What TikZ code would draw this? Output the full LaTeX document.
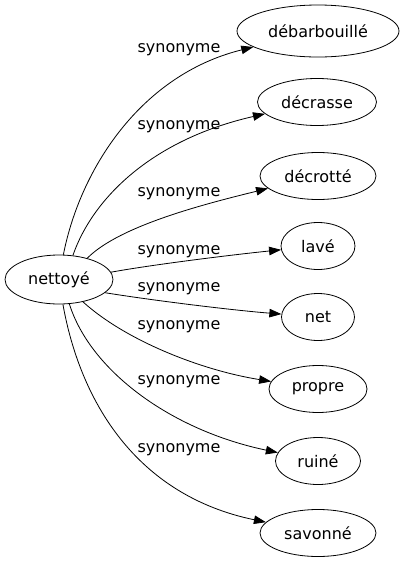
\documentclass[tikz,border=0pt]{standalone}
\usepackage{fontspec}
\setmainfont{DejaVu Sans}
\usetikzlibrary{shapes.geometric,arrows.meta}

\tikzset{
  mot/.style={ellipse,draw,line width=0.8pt,inner sep=0pt,minimum height=47pt},
  rel/.style={->,>={Triangle[length=12pt,width=8.5pt]},line width=0.8pt},
  etiq/.style={inner sep=0pt}
}

\begin{document}
\begin{tikzpicture}[x=1pt,y=-1pt,font=\fontsize{16}{19}\selectfont]
\useasboundingbox (0,0) rectangle (404,563);
\node[mot,minimum width=108pt,minimum height=49pt] (nettoye) at (59,279.5) {nettoyé};
\node[mot,minimum width=162pt,minimum height=52pt] (debarbouille) at (318,31) {débarbouillé};
\node[mot,minimum width=119pt] (decrasse) at (317,102) {décrasse};
\node[mot,minimum width=116pt] (decrotte) at (318,176) {décrotté};
\node[mot,minimum width=74pt] (lave) at (318,246) {lavé};
\node[mot,minimum width=73pt] (net) at (318,317) {net};
\node[mot,minimum width=98pt] (propre) at (318,389) {propre};
\node[mot,minimum width=85pt] (ruine) at (318,461) {ruiné};
\node[mot,minimum width=116pt] (savonne) at (318,533) {savonné};
\foreach \y [count=\i] in {50,127,194,252,289,327,382,450}
\node[etiq] (syn\i) at (179,\y) {synonyme};
\draw[rel] (nettoye.80) .. controls (80,170) and (140,75) .. (debarbouille);
\draw[rel] (nettoye.60) .. controls (92,200) and (150,140) .. (decrasse);
\draw[rel] (nettoye.37) .. controls (120,225) and (209,203) .. (decrotte);
\draw[rel] (nettoye.8) .. controls (150,265) and (230,255) .. (lave);
\draw[rel] (nettoye.-16) .. controls (150,300) and (230,310) .. (net);
\draw[rel] (nettoye.-43) .. controls (125,340) and (200,370) .. (propre);
\draw[rel] (nettoye.-67) .. controls (90,370) and (170,430) .. (ruine);
\draw[rel] (nettoye.-81) .. controls (80,400) and (135,495) .. (savonne);
\end{tikzpicture}
\end{document}
